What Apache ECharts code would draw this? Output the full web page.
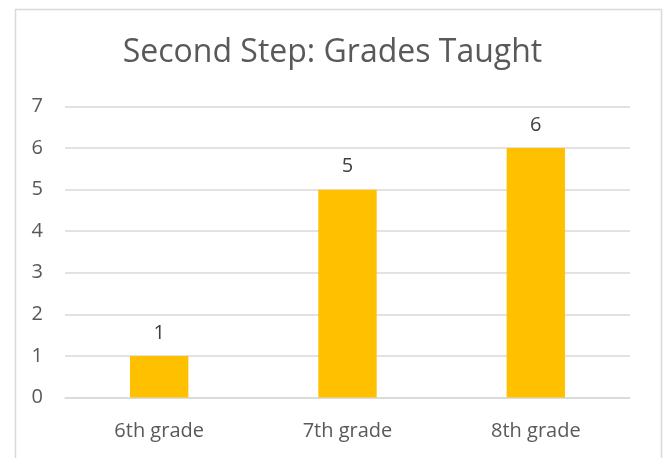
<!DOCTYPE html>
<html><head><meta charset="utf-8">
<script src="https://cdn.jsdelivr.net/npm/echarts@6/dist/echarts.min.js"></script>
<style>html,body{margin:0;padding:0;background:#fff;}#c{width:665px;height:458px;}</style>
</head><body><div id="c"></div>
<script>
const categories = ['6th grade', '7th grade', '8th grade'];
const values = [1, 5, 6];
const yTicks = [0, 1, 2, 3, 4, 5, 6, 7];

const chart = echarts.init(document.getElementById('c'), null, {renderer: 'canvas'});
const font = '"Open Sans", sans-serif';
chart.setOption({
  animation: false,
  backgroundColor: '#fff',
  graphic: [{
    type: 'rect', left: 13, top: 7, shape: {width: 646, height: 460},
    style: {fill: 'none', stroke: '#d9d9d9', lineWidth: 1.5}, silent: true
  }],
  title: {
    text: 'Second Step: Grades Taught', left: 'center', top: 32,
    textStyle: {color: '#595959', fontFamily: font, fontSize: 32, fontWeight: 'normal'}
  },
  grid: {left: 65, right: 35, top: 106.5, bottom: 60.5},
  xAxis: {
    type: 'category', data: categories,
    axisLine: {show: true, lineStyle: {color: '#d9d9d9', width: 1.5}},
    axisTick: {show: false},
    axisLabel: {color: '#595959', fontFamily: font, fontSize: 20, margin: 24}
  },
  yAxis: {
    type: 'value', min: yTicks[0], max: yTicks[yTicks.length - 1], interval: 1,
    axisLine: {show: false}, axisTick: {show: false},
    splitLine: {lineStyle: {color: '#d9d9d9', width: 1.5}},
    axisLabel: {color: '#595959', fontFamily: font, fontSize: 20, margin: 22}
  },
  series: [{
    type: 'bar', data: values, barWidth: '31%',
    itemStyle: {color: '#ffc000'},
    label: {show: true, position: 'top', distance: 13, color: '#404040', fontFamily: font, fontSize: 20}
  }]
});
</script></body></html>
